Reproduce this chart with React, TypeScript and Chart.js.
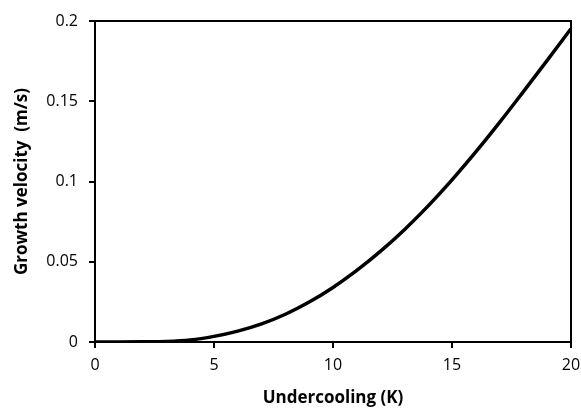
import React, { useEffect, useRef } from "react";
import { Chart, registerables } from "chart.js";

Chart.register(...registerables);

const undercooling = [0, 1, 2, 3, 4, 5, 6, 7, 8, 9, 10, 11, 12, 13, 14, 15, 16, 17, 18, 19, 20];
const velocity = [0, 0, 0.0001, 0.0003, 0.0012, 0.0035, 0.0068, 0.0113, 0.0173, 0.0249, 0.034, 0.0446, 0.0566, 0.07, 0.0848, 0.101, 0.1184, 0.1368, 0.156, 0.1755, 0.1952];
const xTicks = ["0", "5", "10", "15", "20"];
const yTicks = ["0", "0.05", "0.1", "0.15", "0.2"];
const xTitle = "Undercooling (K)";
const yTitle = "Growth velocity  (m/s)";

const FONT = "'Open Sans', 'DejaVu Sans', sans-serif";

const framePlugin = {
  id: "frame",
  afterDraw(chart: any) {
    const { ctx, chartArea } = chart;
    ctx.save();
    ctx.strokeStyle = "#000";
    ctx.lineWidth = 2;
    ctx.beginPath();
    ctx.moveTo(chartArea.left, chartArea.top);
    ctx.lineTo(chartArea.right, chartArea.top);
    ctx.lineTo(chartArea.right, chartArea.bottom);
    ctx.stroke();
    ctx.restore();
  },
};

export default function App() {
  const ref = useRef<HTMLCanvasElement>(null);
  useEffect(() => {
    if (!ref.current) return;
    const chart = new Chart(ref.current, {
      type: "line",
      data: {
        datasets: [
          {
            data: undercooling.map((x, i) => ({ x, y: velocity[i] })),
            borderColor: "#000",
            borderWidth: 3.5,
            pointRadius: 0,
            cubicInterpolationMode: "monotone",
            fill: false,
          },
        ],
      },
      options: {
        animation: false,
        responsive: true,
        maintainAspectRatio: false,
        layout: { padding: { left: 12, right: 10, top: 21, bottom: 0 } },
        plugins: { legend: { display: false }, tooltip: { enabled: false } },
        scales: {
          x: {
            type: "linear",
            min: 0,
            max: 20,
            ticks: {
              stepSize: 5,
              color: "#000",
              font: { family: FONT, size: 16 },
              padding: 8,
              callback: (_v: any, i: number) => xTicks[i],
            },
            grid: { drawOnChartArea: false, drawTicks: true, tickLength: 6, color: "#000", lineWidth: 2 },
            border: { display: true, color: "#000", width: 2 },
            title: { display: true, text: xTitle, color: "#000", font: { family: FONT, size: 17, weight: "bold" }, padding: { top: 4, bottom: 0 } },
            afterFit(axis: any) {
              axis.height = 66;
              axis.paddingRight = 0;
              axis.paddingLeft = 0;
            },
          },
          y: {
            min: 0,
            max: 0.2,
            ticks: {
              stepSize: 0.05,
              color: "#000",
              font: { family: FONT, size: 16 },
              padding: 11,
              callback: (_v: any, i: number) => yTicks[i],
            },
            grid: { drawOnChartArea: false, drawTicks: true, tickLength: 6, color: "#000", lineWidth: 2 },
            border: { display: true, color: "#000", width: 2 },
            title: { display: true, text: yTitle, color: "#000", font: { family: FONT, size: 17, weight: "bold" }, padding: { top: 0, bottom: 4 } },
            afterFit(axis: any) {
              axis.width = 83;
              axis.paddingTop = 0;
              axis.paddingBottom = 0;
            },
          },
        },
      },
      plugins: [framePlugin],
    });
    return () => chart.destroy();
  }, []);
  return (
    <div style={{ position: "fixed", left: 0, top: 0, width: 581, height: 408, background: "#fff" }}>
      <canvas ref={ref} />
    </div>
  );
}
